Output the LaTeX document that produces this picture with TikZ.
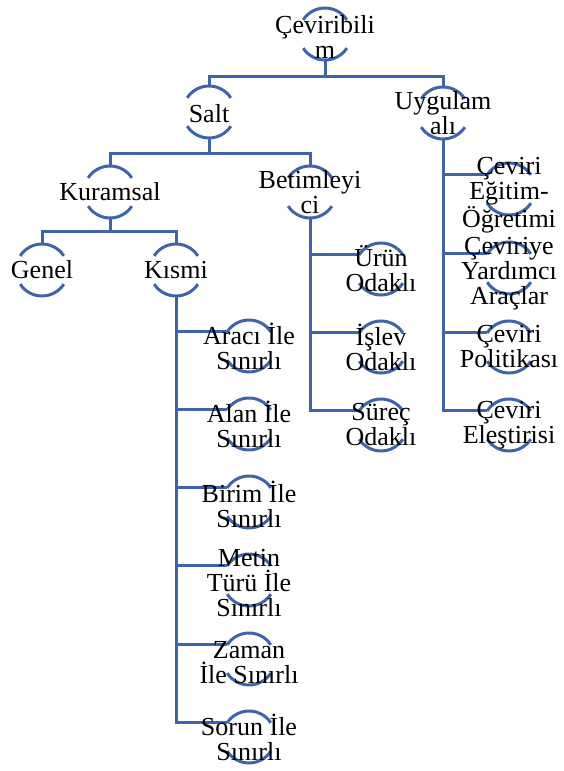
\documentclass[tikz,border=0pt]{standalone}
\usepackage{fontspec}
\setmainfont{Liberation Serif}
\usepackage{xcolor}
\usetikzlibrary{backgrounds}
\definecolor{smartblue}{RGB}{64,100,170}
\tikzset{
	bracket/.style={circle,minimum size=52pt,inner sep=0pt,outer sep=0pt},%
	caption/.style={font=\fontsize{26}{25}\selectfont,align=center,inner sep=0pt},%
	arcline/.style={smartblue,line width=3pt},%
	branch/.style={smartblue,line width=3pt},%
}
\def\arcrad{26pt}
\begin{document}
\begin{tikzpicture}[%
		x=1pt,y=1pt,%
		]
		\useasboundingbox (0,0) rectangle (564,-771);
		% levels
		\node[bracket,label={[caption,yshift=-3pt]center:{Çeviribili\\m}}] (cev) at (325,-34) {};
		\node[bracket,label={[caption,yshift=-2pt]center:{Salt}}] (salt) at (209,-112) {};
		\node[bracket,label={[caption]center:{Uygulam\\alı}}] (uyg) at (443,-113) {};
		\node[bracket,label={[caption]center:{Kuramsal}}] (kur) at (110,-192) {};
		\node[bracket,label={[caption]center:{Betimleyi\\ci}}] (bet) at (310,-192) {};
		\node[bracket,label={[caption]center:{Genel}}] (gen) at (42,-270) {};
		\node[bracket,label={[caption]center:{Kısmi}}] (kis) at (176,-270) {};
		% betimleyici
		\node[bracket,label={[caption]center:{Ürün\\Odaklı}}] (urun) at (381,-269) {};
		\node[bracket,label={[caption]center:{İşlev\\Odaklı}}] (islev) at (381,-347) {};
		\node[bracket,label={[caption]center:{Süreç\\Odaklı}}] (surec) at (381,-425) {};
		% uygulamali
		\node[bracket,label={[caption,yshift=-6pt]center:{Çeviri\\Eğitim-\\Öğretimi}}] (egitim) at (509,-189) {};
		\node[bracket,label={[caption,yshift=-6pt]center:{Çeviriye\\Yardımcı\\Araçlar}}] (yardim) at (509,-268) {};
		\node[bracket,label={[caption]center:{Çeviri\\Politikası}}] (polit) at (509,-347) {};
		\node[bracket,label={[caption]center:{Çeviri\\Eleştirisi}}] (elest) at (509,-425) {};
		% kismi
		\node[bracket,label={[caption]center:{Aracı İle\\Sınırlı}}] (araci) at (249,-346) {};
		\node[bracket,label={[caption]center:{Alan İle\\Sınırlı}}] (alan) at (249,-424) {};
		\node[bracket,label={[caption,yshift=-2pt]center:{Birim İle\\Sınırlı}}] (birim) at (249,-502) {};
		\node[bracket,label={[caption,yshift=-3pt]center:{Metin\\Türü İle\\Sınırlı}}] (metin) at (249,-580) {};
		\node[bracket,label={[caption,yshift=-4pt]center:{Zaman\\İle Sınırlı}}] (zaman) at (249,-659) {};
		\node[bracket,label={[caption]center:{Sorun İle\\Sınırlı}}] (sorun) at (249,-737) {};
		\begin{scope}[on background layer]
			\foreach \n in {cev,salt,uyg,kur,bet,gen,kis,urun,islev,surec,egitim,yardim,polit,elest,araci,alan,birim,metin,zaman,sorun}{
				\draw[arcline] (\n.33) arc[start angle=33,end angle=147,radius=\arcrad];
				\draw[arcline] (\n.213) arc[start angle=213,end angle=327,radius=\arcrad];
			}
			\draw[branch] (cev.south) -- ++(0,-16) -| (salt.north);
			\draw[branch] (cev.south) -- ++(0,-16) -| (uyg.north);
			\draw[branch] (salt.south) -- ++(0,-15) -| (kur.north);
			\draw[branch] (salt.south) -- ++(0,-15) -| (bet.north);
			\draw[branch] (kur.south) -- ++(0,-13) -| (gen.north);
			\draw[branch] (kur.south) -- ++(0,-13) -| (kis.north);
			\foreach \c in {urun,islev,surec}
				\draw[branch] (bet.south) |- (\c.147);
			\foreach \c in {egitim,yardim,polit,elest}
				\draw[branch] (uyg.south) |- (\c.147);
			\foreach \c in {araci,alan,birim,metin,zaman,sorun}
				\draw[branch] (kis.south) |- (\c.147);
		\end{scope}
	\end{tikzpicture}
\end{document}
